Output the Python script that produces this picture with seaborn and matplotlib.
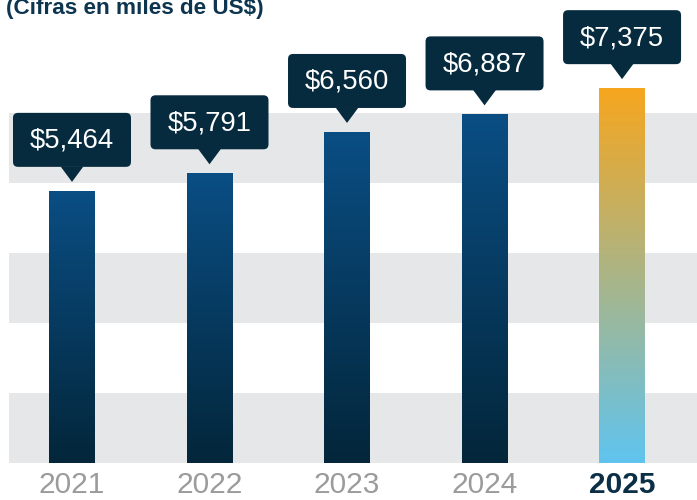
import numpy as np
import pandas as pd
import matplotlib
matplotlib.use("Agg")
import matplotlib.pyplot as plt
import matplotlib.transforms as mtransforms
from matplotlib.patches import FancyBboxPatch, Polygon
from matplotlib.colors import LinearSegmentedColormap
import seaborn as sns

# datos
years  = ["2021", "2022", "2023", "2024", "2025"]
values = [5464, 5791, 6560, 6887, 7375]
labels = ["$5,464", "$5,791", "$6,560", "$6,887", "$7,375"]

sns.set_theme(style="white")
plt.rcParams["font.family"] = ["Liberation Sans", "DejaVu Sans"]

NAVY = "#062b3e"
GRAY_BAND = "#e6e7e9"
cmap_navy = LinearSegmentedColormap.from_list("navy", ["#03263a", "#0a4e84"])
cmap_last = LinearSegmentedColormap.from_list("last", ["#60c4ef", "#f6a61e"])

fig = plt.figure(figsize=(6.97, 5.0), dpi=100)
ax = fig.add_axes([9 / 697, 37 / 500, 688 / 697, 463 / 500])

df = pd.DataFrame({"year": years, "value": values})
sns.barplot(data=df, x="year", y="value", width=0.33, color=NAVY,
            saturation=1, ax=ax)

y0 = 400
px_per_unit = 0.05374
ax.set_xlim(-0.458, 4.545)
ax.set_ylim(y0, y0 + 463 / px_per_unit)

# degradado dentro de cada barra
grad = np.linspace(0, 1, 256).reshape(-1, 1)
bars = list(ax.containers[0].patches)
for i, patch in enumerate(bars):
    x0 = patch.get_x()
    w = patch.get_width()
    top = patch.get_y() + patch.get_height()
    cmap = cmap_last if i == len(values) - 1 else cmap_navy
    im = ax.imshow(grad, cmap=cmap, origin="lower", aspect="auto",
                   extent=(x0, x0 + w, y0, top), zorder=2)
    im.set_clip_path(patch)
    patch.set_facecolor("none")
    patch.set_edgecolor("none")

ax.set_xlim(-0.458, 4.545)
ax.set_ylim(y0, y0 + 463 / px_per_unit)

# franjas grises de fondo
band = 70 / px_per_unit
for k in (0, 2, 4):
    ax.axhspan(y0 + k * band, y0 + (k + 1) * band, color=GRAY_BAND, lw=0, zorder=0)

# globos con el valor
for i, (val, lab) in enumerate(zip(values, labels)):
    off = mtransforms.IdentityTransform() + mtransforms.ScaledTranslation(i, val, ax.transData)
    tri = Polygon([(0, 9), (-11.5, 24.5), (11.5, 24.5)], closed=True,
                  facecolor=NAVY, edgecolor="none", transform=off, clip_on=False, zorder=5)
    box = FancyBboxPatch((-59, 24), 118, 54, boxstyle="round,pad=0,rounding_size=5",
                         facecolor=NAVY, edgecolor="none", transform=off,
                         clip_on=False, zorder=5)
    ax.add_patch(tri)
    ax.add_patch(box)
    ax.text(0, 50, lab, transform=off, ha="center", va="center",
            fontsize=19.8, color="white", zorder=6, clip_on=False)

# ejes
sns.despine(ax=ax, left=True, bottom=True)
ax.set_yticks([])
ax.set_xlabel("")
ax.set_ylabel("")
ax.tick_params(axis="x", length=0, pad=6, labelsize=21.5)
for j, t in enumerate(ax.get_xticklabels()):
    if j == len(years) - 1:
        t.set_color("#0a2f47")
        t.set_fontweight("bold")
    else:
        t.set_color("#9b9b9b")

fig.text(6 / 697, 1 - 14 / 500, "(Cifras en miles de US$)", ha="left", va="baseline",
         fontsize=16.2, fontweight="bold", color="#0d3550")

fig.savefig("out.png", dpi=100)
